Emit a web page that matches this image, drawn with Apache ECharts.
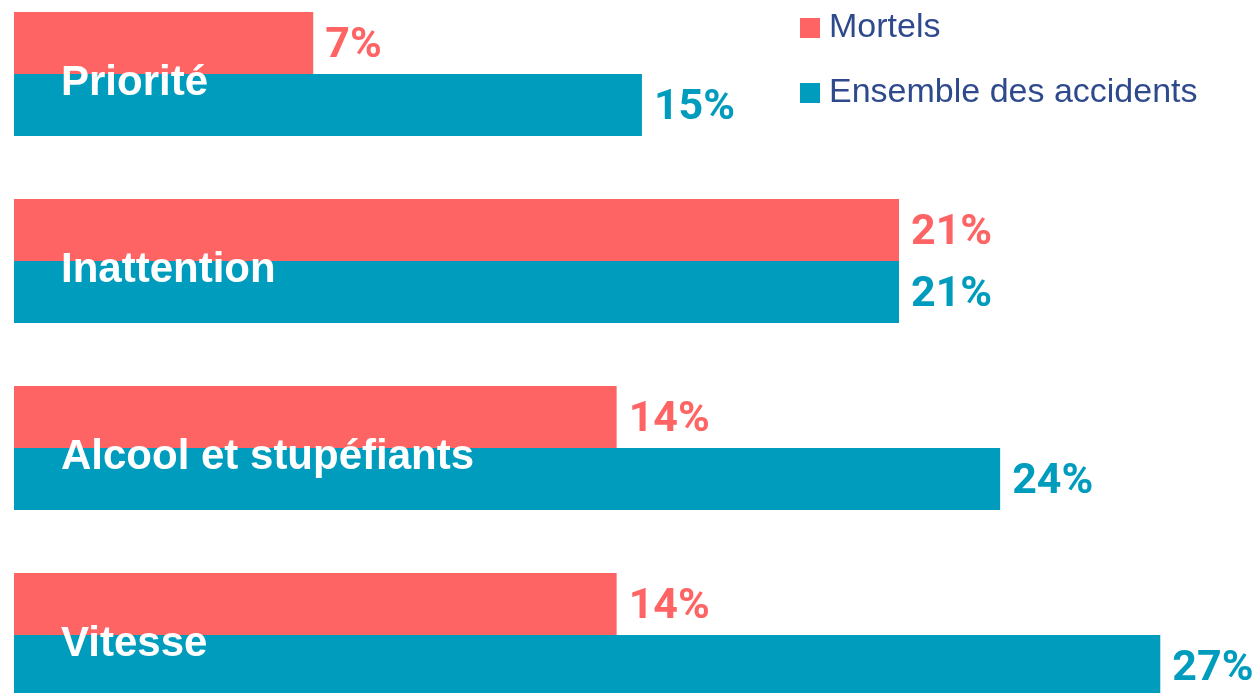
<!DOCTYPE html>
<html>
<head>
<meta charset="utf-8">
<script src="https://cdn.jsdelivr.net/npm/echarts@6/dist/echarts.min.js"></script>
<style>
  html, body { margin: 0; padding: 0; background: #fff; }
  #chart { width: 1258px; height: 693px; }
</style>
</head>
<body>
<div id="chart"></div>
<script>
// categories, top to bottom
const categories = ['Priorité', 'Inattention', 'Alcool et stupéfiants', 'Vitesse']
// bar lengths as drawn (% of accidents)
const mortels = [7.1, 21, 14.3, 14.3]
const ensemble = [14.9, 21, 23.4, 27.2]
// labels printed next to the bars
const mortelsLabels = ['7%', '21%', '14%', '14%']
const ensembleLabels = ['15%', '21%', '24%', '27%']

const RED = '#ff6464'
const TEAL = '#009cbd'
const valueFont = "Roboto, 'Liberation Sans', sans-serif"

const chart = echarts.init(document.getElementById('chart'))
chart.setOption({
  animation: false,
  legend: {
    orient: 'vertical',
    left: 800,
    top: 11,
    padding: 0,
    icon: 'rect',
    itemWidth: 20,
    itemHeight: 20,
    itemGap: 31,
    textStyle: {
      color: '#2f4a8c',
      fontSize: 34,
      lineHeight: 34,
      fontFamily: 'Liberation Sans',
      padding: [0, 0, 0, 4]
    },
    data: ['Mortels', 'Ensemble des accidents']
  },
  grid: {
    left: 14,
    right: 64,
    top: -19.5,
    bottom: -35.5,
    outerBoundsMode: 'none'
  },
  xAxis: {
    type: 'value',
    min: 0,
    max: 28,
    show: false
  },
  yAxis: {
    type: 'category',
    inverse: true,
    data: categories,
    z: 10,
    axisLine: { show: false },
    axisTick: { show: false },
    axisLabel: {
      inside: true,
      margin: 47,
      color: '#fff',
      fontSize: 42,
      fontWeight: 'bold',
      fontFamily: 'Liberation Sans',
      verticalAlign: 'top',
      lineHeight: 18
    }
  },
  series: [
    {
      name: 'Mortels',
      type: 'bar',
      data: mortels,
      barGap: '0%',
      barCategoryGap: '33.7%',
      itemStyle: { color: RED },
      label: {
        show: true,
        position: 'right',
        distance: 12,
        offset: [0, 3],
        color: RED,
        fontSize: 43,
        fontWeight: 'bold',
        fontFamily: valueFont,
        formatter: p => mortelsLabels[p.dataIndex]
      }
    },
    {
      name: 'Ensemble des accidents',
      type: 'bar',
      data: ensemble,
      barGap: '0%',
      barCategoryGap: '33.7%',
      itemStyle: { color: TEAL },
      label: {
        show: true,
        position: 'right',
        distance: 12,
        offset: [0, 3],
        color: TEAL,
        fontSize: 43,
        fontWeight: 'bold',
        fontFamily: valueFont,
        formatter: p => ensembleLabels[p.dataIndex]
      }
    }
  ]
})
</script>
</body>
</html>
